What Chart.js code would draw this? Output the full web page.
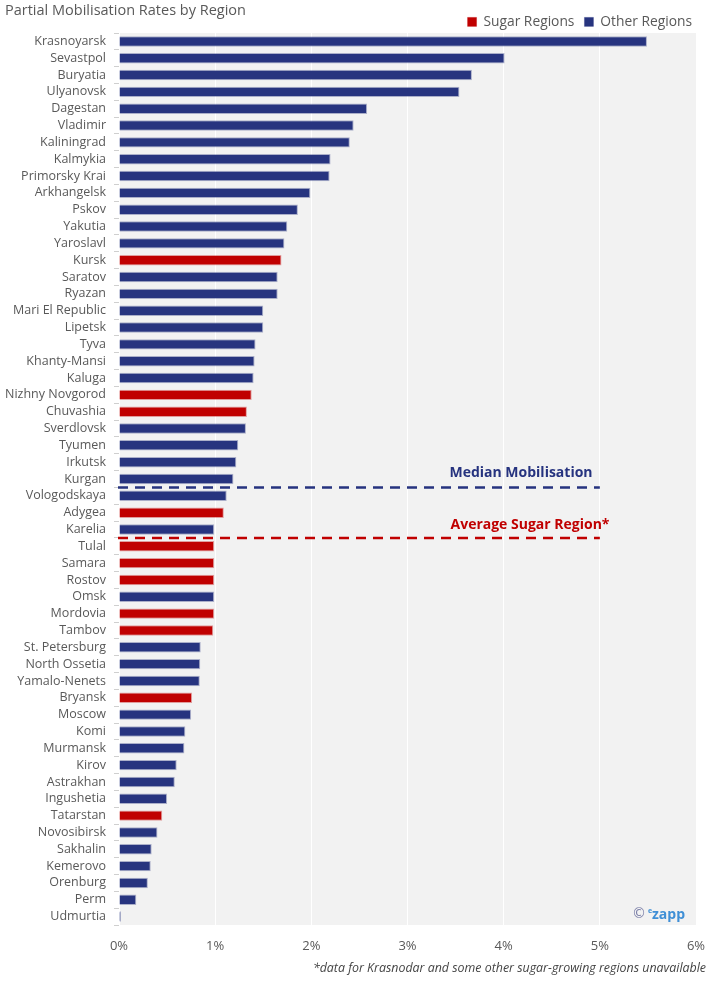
<!DOCTYPE html>
<html>
<head>
<meta charset="utf-8">
<script src="https://cdn.jsdelivr.net/npm/chart.js@4"></script>
<style>
  body { margin: 0; background: #fff; font-family: "Open Sans", sans-serif; }
  #wrap { position: relative; width: 715px; height: 981px; }
  #title { position: absolute; left: 5px; top: 0px; font-size: 14.5px; color: #595959; }
  #note { position: absolute; right: 9px; top: 959px; font-size: 12.4px; font-style: italic; color: #444; }
</style>
</head>
<body>
<div id="wrap">
  <canvas id="mobchart" width="715" height="981"></canvas>
  <div id="title">Partial Mobilisation Rates by Region</div>
  <div id="note">*data for Krasnodar and some other sugar-growing regions unavailable</div>
</div>
<script>
const regions = ['Krasnoyarsk', 'Sevastpol', 'Buryatia', 'Ulyanovsk', 'Dagestan', 'Vladimir', 'Kaliningrad', 'Kalmykia', 'Primorsky Krai', 'Arkhangelsk',
  'Pskov', 'Yakutia', 'Yaroslavl', 'Kursk', 'Saratov', 'Ryazan', 'Mari El Republic', 'Lipetsk', 'Tyva', 'Khanty-Mansi',
  'Kaluga', 'Nizhny Novgorod', 'Chuvashia', 'Sverdlovsk', 'Tyumen', 'Irkutsk', 'Kurgan', 'Vologodskaya', 'Adygea', 'Karelia',
  'Tulal', 'Samara', 'Rostov', 'Omsk', 'Mordovia', 'Tambov', 'St. Petersburg', 'North Ossetia', 'Yamalo-Nenets', 'Bryansk',
  'Moscow', 'Komi', 'Murmansk', 'Kirov', 'Astrakhan', 'Ingushetia', 'Tatarstan', 'Novosibirsk', 'Sakhalin', 'Kemerovo',
  'Orenburg', 'Perm', 'Udmurtia'];

const rates = [5.49, 4.01, 3.67, 3.54, 2.58, 2.44, 2.40, 2.20, 2.19, 1.99,
  1.86, 1.75, 1.72, 1.69, 1.65, 1.65, 1.50, 1.50, 1.42, 1.41,
  1.40, 1.38, 1.33, 1.32, 1.24, 1.22, 1.19, 1.12, 1.09, 0.99,
  0.99, 0.99, 0.99, 0.99, 0.99, 0.98, 0.85, 0.845, 0.84, 0.76,
  0.75, 0.69, 0.68, 0.60, 0.58, 0.50, 0.45, 0.40, 0.34, 0.33,
  0.30, 0.18, 0.02];

const sugarRegions = ['Kursk', 'Nizhny Novgorod', 'Chuvashia', 'Adygea', 'Tulal', 'Samara', 'Rostov', 'Mordovia', 'Tambov', 'Bryansk', 'Tatarstan'];

const xTicks = [0, 1, 2, 3, 4, 5, 6];

// reference lines sit between categories (index + 0.5), running to 5%
const refLines = [
  { label: 'Median Mobilisation', after: 'Kurgan', end: 5, color: '#26337f', textX: 521, textDy: -14 },
  { label: 'Average Sugar Region*', after: 'Karelia', end: 5, color: '#c00000', textX: 530, textDy: -13 }
];

const navy = '#27347f';
const red = '#c00000';

const sugarData = rates.map((v, i) => sugarRegions.includes(regions[i]) ? v : null);
const otherData = rates.map((v, i) => sugarRegions.includes(regions[i]) ? null : v);

const plotBg = {
  id: 'plotBg',
  beforeDraw(chart) {
    const { ctx, chartArea: a } = chart;
    ctx.save();
    ctx.fillStyle = '#f2f2f2';
    ctx.fillRect(a.left, a.top, a.right - a.left, a.bottom - a.top);
    ctx.restore();
  }
};

// keep the legend row short so the plot starts right under it, nudge it right
const shortLegend = {
  id: 'shortLegend',
  beforeUpdate(chart) {
    const lg = chart.legend;
    if (lg && !lg._short) {
      const fit = lg.fit;
      const draw = lg.draw;
      lg.fit = function () { fit.call(this); this.height = 28; };
      lg.draw = function () {
        this.ctx.save();
        this.ctx.translate(6, 0);
        draw.call(this);
        this.ctx.restore();
      };
      lg._short = true;
    }
  }
};

const refPlugin = {
  id: 'refPlugin',
  afterDatasetsDraw(chart) {
    const { ctx, scales: { x, y } } = chart;
    ctx.save();
    refLines.forEach(r => {
      const idx = regions.indexOf(r.after);
      const py = y.getPixelForValue(idx + 0.5);
      ctx.strokeStyle = r.color;
      ctx.lineWidth = 2.5;
      ctx.setLineDash([10, 7]);
      ctx.beginPath();
      ctx.moveTo(x.getPixelForValue(0) - 1, py);
      ctx.lineTo(x.getPixelForValue(r.end), py);
      ctx.stroke();
      ctx.setLineDash([]);
      ctx.fillStyle = r.color;
      ctx.font = 'bold 14px "Open Sans"';
      ctx.textAlign = 'center';
      ctx.textBaseline = 'middle';
      ctx.fillText(r.label, r.textX, py + r.textDy);
    });
    // watermark
    const a = chart.chartArea;
    ctx.textBaseline = 'middle';
    ctx.textAlign = 'left';
    ctx.fillStyle = '#7b7fa8';
    ctx.font = '14px "DejaVu Sans"';
    ctx.fillText('©', a.right - 64, a.bottom - 11);
    ctx.fillStyle = '#3f8fd6';
    ctx.font = 'bold 7px "Open Sans"';
    ctx.fillText('e', a.right - 48, a.bottom - 14);
    ctx.font = 'bold 14px "Open Sans"';
    ctx.fillText('zapp', a.right - 44, a.bottom - 10);
    ctx.restore();
  }
};

new Chart(document.getElementById('mobchart'), {
  type: 'bar',
  data: {
    labels: regions,
    datasets: [
      { label: 'Sugar Regions', data: sugarData, backgroundColor: red, borderColor: 'rgba(192,0,0,0.35)', borderWidth: 1, barPercentage: 0.62, categoryPercentage: 1 },
      { label: 'Other Regions', data: otherData, backgroundColor: navy, borderColor: 'rgba(39,52,127,0.35)', borderWidth: 1, barPercentage: 0.62, categoryPercentage: 1 }
    ]
  },
  options: {
    indexAxis: 'y',
    responsive: false,
    animation: false,
    layout: { padding: { left: 0, right: 19, top: 5, bottom: 26 } },
    scales: {
      x: {
        stacked: true,
        min: 0,
        max: 6,
        afterBuildTicks(scale) { scale.ticks = xTicks.map(v => ({ value: v })); },
        afterFit(scale) { scale.height = 30; scale.paddingLeft = 0; scale.paddingRight = 0; },
        ticks: {
          callback: v => v + '%',
          color: '#595959',
          font: { family: 'Open Sans', size: 13 },
          padding: 13
        },
        grid: { color: '#ffffff', lineWidth: 1, drawTicks: false },
        border: { display: false }
      },
      y: {
        stacked: true,
        afterFit(scale) { scale.width = 119; },
        ticks: {
          autoSkip: false,
          color: '#595959',
          font: { family: 'Open Sans', size: 12.5 },
          padding: 8
        },
        grid: { drawOnChartArea: false, drawTicks: true, tickLength: 5, color: '#cfcfcf', offset: true },
        border: { display: false }
      }
    },
    plugins: {
      legend: {
        position: 'top',
        align: 'end',
        labels: {
          boxWidth: 9,
          boxHeight: 9,
          color: '#595959',
          font: { family: 'Open Sans', size: 13.8 },
          padding: 10
        }
      },
      tooltip: { enabled: false }
    }
  },
  plugins: [plotBg, shortLegend, refPlugin]
});
</script>
</body>
</html>
